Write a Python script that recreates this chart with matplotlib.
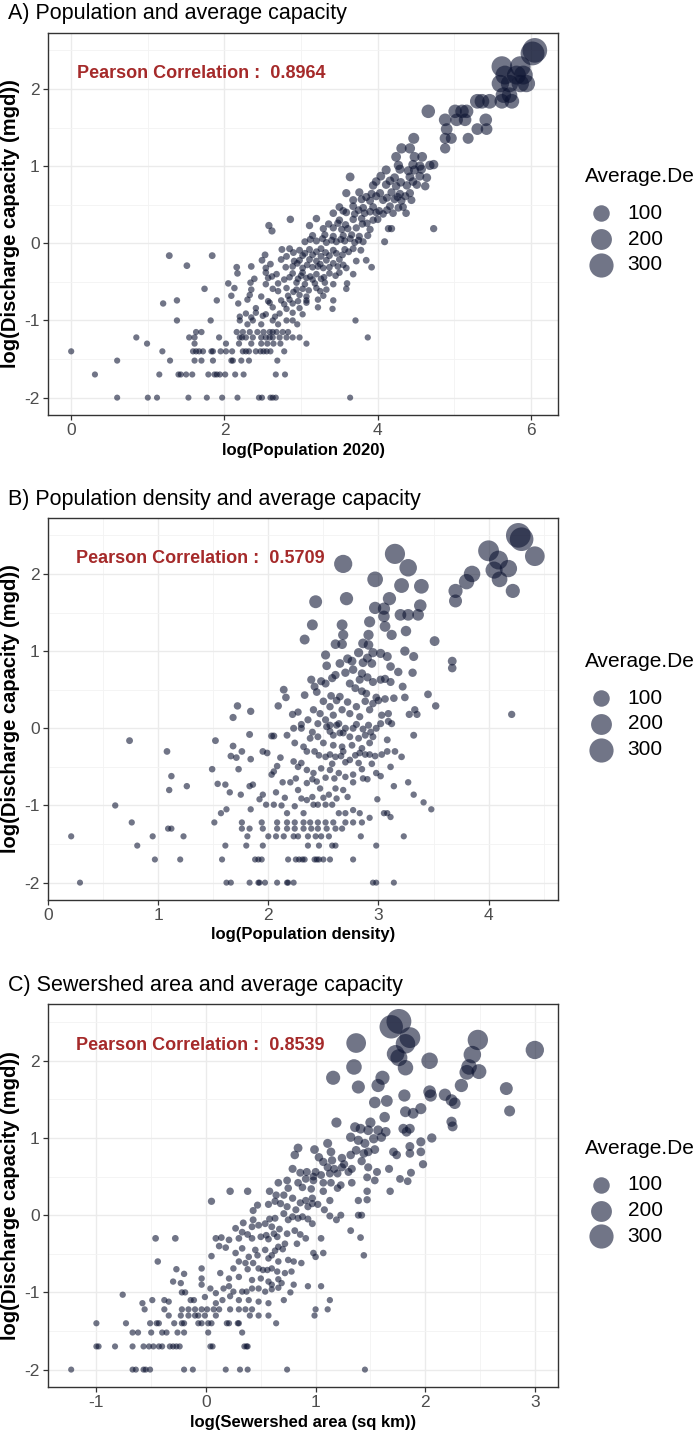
import numpy as np
import matplotlib.pyplot as plt
from matplotlib.ticker import MultipleLocator

plt.rcParams['font.family'] = ['Liberation Sans', 'DejaVu Sans']
plt.rcParams['axes.unicode_minus'] = False

# ---- data ----
# A) log10 population 2020 vs log10 discharge capacity (mgd)
pop_x = [
    0.60, 1.00, 1.12, 1.53, 1.77, 1.97, 2.17, 2.45, 2.49, 2.60, 2.63, 2.67, 3.64,
    0.31, 1.15, 1.40, 1.43, 1.50, 1.58, 1.79, 1.87, 1.90, 1.94, 2.01, 2.14, 2.25, 2.67, 2.79,
    0.60, 1.29, 1.61, 1.70, 1.85, 2.09, 2.11, 2.22, 2.32, 2.69,
    0.00, 1.19, 1.59, 1.63, 1.67, 1.72, 1.83, 1.85, 1.95, 2.02, 2.10, 2.24, 2.28, 2.32, 2.41, 2.47, 2.51, 2.55, 2.60, 2.78,
    0.99, 1.61, 2.02, 2.19, 2.35, 2.48, 2.56, 2.64, 2.73, 3.07,
    0.85, 1.54, 1.61, 1.93, 2.20, 2.23, 2.28, 2.37, 2.48, 2.54, 2.59, 2.63, 2.72, 2.81, 2.89, 2.98, 3.87,
    1.63, 1.70, 2.16, 2.24, 2.33, 2.43, 2.51, 2.59, 2.63, 2.68, 2.76, 2.83,
    1.38, 1.82, 2.20, 2.37, 2.63, 2.81, 2.89, 3.71,
    2.28, 2.41, 2.54, 2.72, 2.89, 3.02,
    2.41, 2.63, 2.81, 2.98, 3.22, 3.41,
    1.20, 2.18, 2.59, 2.78, 2.89, 3.07,
    1.38, 1.90, 2.30, 2.57, 2.74, 2.85, 2.96, 3.07, 3.22, 3.42,
    2.09, 2.33, 2.48, 2.83, 2.98, 3.07, 3.29,
    1.74, 2.13, 2.35, 2.63, 2.81, 2.94, 3.02, 3.20, 3.33, 3.59,
    2.05, 2.34, 2.54, 2.70, 2.94, 3.05, 3.18, 3.31, 3.42, 3.60,
    2.39, 2.57, 2.78, 2.96, 3.07, 3.15, 3.26,
    2.17, 2.54, 2.68, 2.89, 3.02, 3.20, 3.37, 3.50, 3.68,
    1.51, 2.16, 2.35, 2.54, 2.80, 2.89, 3.02, 3.15, 3.22, 3.29, 3.37, 3.48, 3.59, 3.92,
    2.49, 2.74, 2.91, 2.98, 3.11, 3.20, 3.33, 3.50, 3.72, 3.85,
    1.28, 1.84, 2.53, 2.81, 3.02, 3.15, 3.26, 3.37, 3.54,
    2.75, 2.85, 2.98, 3.11, 3.26, 3.42, 3.57, 3.68, 3.78,
    3.05, 3.20, 3.33, 3.46, 3.57, 3.70, 3.81, 4.09,
    3.15, 3.31, 3.42, 3.55, 3.66, 3.76, 3.87, 2.62,
    3.29, 3.42, 3.53, 3.61, 3.72, 3.90, 4.14, 4.18, 4.73, 2.58, 3.11,
    2.86, 3.20, 3.50, 3.68, 3.79, 3.94, 4.00,
    3.42, 3.59, 3.70, 3.83, 3.98, 4.07, 4.20, 4.37,
    3.50, 3.68, 3.81, 3.94, 4.16, 4.27, 4.33,
    3.68, 3.79, 3.90, 4.07, 4.22, 4.31, 4.44,
    3.59, 3.76, 3.92, 4.03, 4.18, 4.29, 4.42,
    3.94, 4.11, 4.24, 4.38, 4.51, 4.62,
    3.64, 4.04, 4.22, 4.42, 4.55, 4.64,
    4.11, 4.29, 4.40, 4.48, 4.57,
    4.27, 4.46, 4.55, 4.68, 4.73,
    4.24, 4.48, 4.58, 4.31, 4.42, 4.88,
    4.47, 4.88, 4.96, 5.18, 4.90, 5.30, 5.42,
    4.88, 5.03, 5.14, 5.41, 4.66, 5.01, 5.10, 5.16,
    5.30, 5.36, 5.46, 5.62, 5.75, 5.64, 5.72,
    5.60, 5.72, 5.86, 5.94, 5.66, 5.81, 5.90, 5.62, 5.86, 6.05, 6.02,
    2.70, 2.90, 3.10, 3.25, 2.62, 2.85, 3.00, 3.12, 3.30, 3.45,
    2.60, 2.95, 3.08, 3.25, 3.42, 3.55, 2.90, 3.05, 3.20, 3.32,
    3.46, 3.62, 3.12, 3.28, 3.40, 3.52, 3.64, 3.75, 3.36, 3.48,
    3.58, 3.80, 3.86, 3.55, 3.75, 3.90, 4.02, 4.12, 3.85, 3.98,
    4.12, 4.26, 4.36, 3.98, 4.16, 4.30, 4.46, 2.30, 2.48, 2.70,
    2.95, 2.20, 2.35, 2.50, 2.66,
]
pop_y = [
    -2.00, -2.00, -2.00, -2.00, -2.00, -2.00, -2.00, -2.00, -2.00, -2.00, -2.00, -2.00, -2.00,
    -1.70, -1.70, -1.70, -1.70, -1.70, -1.70, -1.70, -1.70, -1.70, -1.70, -1.70, -1.70, -1.70, -1.70, -1.70,
    -1.52, -1.52, -1.52, -1.52, -1.52, -1.52, -1.52, -1.52, -1.52, -1.52,
    -1.40, -1.40, -1.40, -1.40, -1.40, -1.40, -1.40, -1.40, -1.40, -1.40, -1.40, -1.40, -1.40, -1.40, -1.40, -1.40, -1.40, -1.40, -1.40, -1.40,
    -1.30, -1.30, -1.30, -1.30, -1.30, -1.30, -1.30, -1.30, -1.30, -1.30,
    -1.22, -1.22, -1.22, -1.22, -1.22, -1.22, -1.22, -1.22, -1.22, -1.22, -1.22, -1.22, -1.22, -1.22, -1.22, -1.22, -1.22,
    -1.15, -1.15, -1.15, -1.15, -1.15, -1.15, -1.15, -1.15, -1.15, -1.15, -1.15, -1.15,
    -1.00, -1.00, -1.00, -1.00, -1.00, -1.00, -1.00, -1.00,
    -0.91, -0.90, -0.92, -0.91, -0.90, -0.92,
    -0.84, -0.83, -0.85, -0.84, -0.83, -0.85,
    -0.78, -0.78, -0.77, -0.79, -0.78, -0.77,
    -0.74, -0.74, -0.73, -0.75, -0.74, -0.73, -0.75, -0.74, -0.73, -0.74,
    -0.68, -0.67, -0.69, -0.68, -0.67, -0.69, -0.68,
    -0.59, -0.58, -0.60, -0.59, -0.58, -0.60, -0.59, -0.58, -0.60, -0.59,
    -0.52, -0.51, -0.53, -0.52, -0.51, -0.53, -0.52, -0.51, -0.53, -0.52,
    -0.46, -0.45, -0.47, -0.46, -0.45, -0.47, -0.46,
    -0.39, -0.38, -0.40, -0.39, -0.38, -0.40, -0.39, -0.38, -0.40,
    -0.29, -0.31, -0.30, -0.32, -0.31, -0.30, -0.32, -0.31, -0.30, -0.32, -0.31, -0.30, -0.32, -0.31,
    -0.22, -0.21, -0.23, -0.22, -0.21, -0.23, -0.22, -0.21, -0.23, -0.22,
    -0.16, -0.16, -0.15, -0.17, -0.16, -0.15, -0.17, -0.16, -0.15,
    -0.08, -0.07, -0.09, -0.08, -0.07, -0.09, -0.08, -0.07, -0.09,
    0.02, 0.03, 0.01, 0.02, 0.03, 0.01, 0.02, 0.02,
    0.10, 0.11, 0.09, 0.10, 0.11, 0.09, 0.10, 0.16,
    0.19, 0.20, 0.18, 0.19, 0.20, 0.18, 0.19, 0.19, 0.19, 0.23, 0.23,
    0.31, 0.32, 0.30, 0.31, 0.32, 0.30, 0.31,
    0.39, 0.40, 0.38, 0.39, 0.40, 0.38, 0.39, 0.39,
    0.47, 0.48, 0.46, 0.47, 0.48, 0.46, 0.47,
    0.56, 0.57, 0.55, 0.56, 0.57, 0.55, 0.56,
    0.65, 0.66, 0.64, 0.65, 0.66, 0.64, 0.65,
    0.75, 0.76, 0.74, 0.75, 0.76, 0.74,
    0.86, 0.87, 0.85, 0.86, 0.87, 0.85,
    0.95, 0.96, 0.94, 0.95, 0.96,
    1.01, 1.02, 1.00, 1.01, 1.02,
    1.12, 1.12, 1.12, 1.23, 1.23, 1.23,
    1.36, 1.36, 1.36, 1.36, 1.48, 1.48, 1.48,
    1.60, 1.60, 1.60, 1.60, 1.71, 1.71, 1.71, 1.71,
    1.84, 1.84, 1.84, 1.84, 1.84, 1.92, 1.92,
    2.07, 2.07, 2.07, 2.07, 2.18, 2.18, 2.18, 2.29, 2.29, 2.50, 2.46,
    -0.62, -0.63, -0.61, -0.62, -0.43, -0.44, -0.42, -0.43, -0.44, -0.42,
    -0.27, -0.26, -0.28, -0.27, -0.26, -0.28, -0.12, -0.13, -0.11, -0.12,
    -0.13, -0.11, 0.05, 0.06, 0.04, 0.05, 0.06, 0.04, 0.25, 0.26,
    0.24, 0.25, 0.26, 0.42, 0.43, 0.41, 0.42, 0.43, 0.60, 0.61,
    0.59, 0.60, 0.61, 0.80, 0.81, 0.79, 0.80, -1.05, -1.05, -1.05,
    -1.05, -0.95, -0.96, -0.94, -0.95,
]

# B) log10 population density vs log10 discharge capacity (mgd)
dens_x = [
    4.27, 4.30, 4.42, 4.00, 4.09, 4.18, 4.05, 4.10, 3.85, 3.80,
    4.22, 3.70, 3.70, 3.15, 3.27, 2.68, 2.97, 3.21, 3.39, 2.71,
    2.43, 3.10, 3.38, 2.97, 3.05, 3.20, 3.27, 3.36, 3.05, 2.92,
    2.40, 2.67, 3.06, 3.25, 2.68, 2.91, 3.12, 2.33, 3.51, 2.61,
    2.67, 2.86, 2.91, 3.24, 3.32, 2.52, 2.82, 2.95, 3.02, 3.08,
    3.67, 3.67, 2.76, 2.53, 2.65, 2.86, 2.94, 3.11, 3.18, 3.31,
    2.70, 2.77, 2.85, 2.61, 2.39, 2.48, 2.52, 2.95, 3.02, 3.11,
    2.74, 2.83, 3.22, 2.42, 2.44, 2.14, 2.16, 2.33, 2.57, 2.65,
    2.79, 2.85, 2.89, 2.98, 3.06, 3.14, 3.24, 3.45, 3.52, 1.72,
    1.84, 1.68, 2.09, 2.41, 2.47, 2.56, 2.59, 2.67, 2.74, 2.80,
    2.83, 2.92, 2.95, 3.03, 3.09, 3.09, 3.28, 3.35, 3.33, 4.21,
    2.22, 2.27, 2.36, 2.52, 2.56, 2.64, 2.70, 2.77, 2.86, 2.91,
    2.98, 3.02, 3.32, 1.83, 2.03, 2.05, 2.17, 2.23, 2.30, 2.38,
    2.45, 2.53, 2.59, 2.65, 2.74, 2.82, 2.88, 2.95, 3.08, 2.24,
    2.32, 2.50, 2.59, 2.67, 2.76, 2.85, 2.92, 0.74, 1.52, 1.68,
    1.76, 1.66, 1.71, 1.84, 1.95, 1.99, 2.11, 1.08, 1.49, 1.73,
    2.08, 2.05, 2.03, 2.23, 2.27, 2.35, 2.42, 2.52, 2.61, 2.68,
    2.74, 2.83, 2.92, 3.03, 3.08, 3.15, 3.21, 3.11, 2.98, 3.02,
    2.35, 2.41, 2.48, 2.56, 2.64, 2.70, 2.77, 2.85, 1.12, 1.10,
    1.26, 1.54, 1.61, 1.65, 1.75, 1.83, 1.86, 1.95, 2.07, 2.13,
    2.20, 2.27, 2.35, 2.44, 2.47, 2.55, 2.61, 2.68, 2.77, 2.86,
    3.14, 3.27, 3.32, 3.41, 3.48, 2.99, 0.61, 1.57, 1.62, 1.84,
    1.92, 1.98, 2.05, 2.12, 2.17, 2.24, 2.32, 2.35, 2.41, 2.45,
    2.52, 2.58, 2.64, 2.70, 2.77, 2.83, 3.05, 3.08, 3.11, 2.92,
    0.76, 1.51, 1.76, 1.94, 2.08, 2.17, 2.24, 2.32, 2.38, 2.45, 2.52, 2.59, 2.70, 2.77, 2.85,
    1.09, 1.12, 1.76, 1.83, 1.95, 2.08, 2.17, 2.24, 2.32, 2.39, 2.45, 2.53, 2.61, 2.67,
    0.21, 0.95, 1.23, 1.81, 2.00, 2.07, 2.14, 2.23, 2.27, 2.36, 2.43, 2.48, 2.55, 2.84, 3.23,
    0.81, 1.61, 1.80, 1.95, 2.36, 2.46, 2.58, 2.61, 2.98,
    0.97, 1.20, 1.58, 1.88, 1.91, 1.94, 2.18, 2.25, 2.28, 2.31, 2.33, 2.42, 2.44, 2.46, 2.50, 2.56, 2.77,
    0.29, 1.62, 1.66, 1.83, 1.91, 1.92, 1.97, 2.08, 2.17, 2.18, 2.23, 2.95, 2.98, 3.14,
    2.58, 2.90, 3.06, 2.50, 2.62, 2.72, 2.88, 3.00, 2.30, 2.45,
    2.62, 2.80, 3.12, 2.40, 2.56, 2.68, 2.93, 2.46, 2.56, 2.66,
    2.79, 2.88, 2.97, 2.30, 2.58, 2.70, 2.82, 2.94, 2.25, 2.40,
    2.52, 2.60, 2.90, 2.15, 2.30, 2.40, 2.50, 2.62, 2.72, 2.72,
    2.90,
]
dens_y = [
    2.50, 2.45, 2.23, 2.30, 2.18, 2.07, 2.05, 1.93, 2.00, 1.90,
    1.78, 1.78, 1.65, 2.26, 2.08, 2.13, 1.93, 1.85, 1.84, 1.68,
    1.64, 1.68, 1.59, 1.56, 1.55, 1.47, 1.47, 1.47, 1.45, 1.38,
    1.34, 1.34, 1.32, 1.26, 1.21, 1.21, 1.21, 1.15, 1.13, 1.09,
    1.09, 1.10, 1.08, 1.00, 0.93, 0.95, 0.98, 0.98, 0.97, 0.93,
    0.87, 0.78, 0.87, 0.81, 0.84, 0.85, 0.84, 0.80, 0.73, 0.72,
    0.72, 0.76, 0.71, 0.69, 0.63, 0.61, 0.58, 0.60, 0.63, 0.60,
    0.58, 0.63, 0.54, 0.54, 0.47, 0.50, 0.40, 0.43, 0.42, 0.41,
    0.52, 0.48, 0.45, 0.40, 0.38, 0.39, 0.40, 0.44, 0.29, 0.29,
    0.22, 0.14, 0.29, 0.24, 0.19, 0.28, 0.17, 0.24, 0.19, 0.28,
    0.15, 0.24, 0.32, 0.17, 0.19, 0.09, 0.18, 0.18, 0.24, 0.18,
    0.18, 0.21, 0.11, 0.11, 0.04, 0.06, 0.00, 0.00, -0.01, 0.04,
    0.00, 0.06, -0.09, -0.08, -0.10, -0.10, -0.09, 0.00, 0.00, -0.13,
    -0.11, 0.02, -0.09, -0.06, -0.11, -0.13, -0.09, -0.11, -0.15, -0.19,
    -0.24, -0.19, -0.22, -0.24, -0.22, -0.26, -0.19, -0.16, -0.16, -0.23,
    -0.30, -0.36, -0.38, -0.40, -0.30, -0.32, -0.38, -0.30, -0.53, -0.53,
    -0.49, -0.56, -0.60, -0.43, -0.50, -0.30, -0.30, -0.37, -0.37, -0.30,
    -0.41, -0.32, -0.34, -0.34, -0.30, -0.30, -0.37, -0.50, -0.58, -0.62,
    -0.54, -0.58, -0.52, -0.54, -0.58, -0.63, -0.60, -0.53, -0.62, -0.80,
    -0.75, -0.72, -0.73, -0.83, -0.86, -0.75, -0.73, -0.86, -0.83, -0.70,
    -0.70, -0.80, -0.71, -0.69, -0.78, -0.86, -0.78, -0.80, -0.70, -0.65,
    -0.75, -0.70, -0.86, -0.96, -1.05, -0.92, -1.00, -1.10, -1.05, -1.05,
    -0.92, -0.99, -0.99, -1.00, -1.10, -1.01, -1.10, -0.93, -0.99, -0.99,
    -0.99, -0.99, -1.10, -1.10, -1.06, -1.10, -1.10, -1.10, -1.15, -1.16,
    -1.22, -1.22, -1.22, -1.22, -1.22, -1.22, -1.22, -1.22, -1.22, -1.22, -1.22, -1.22, -1.22, -1.22, -1.22,
    -1.30, -1.30, -1.30, -1.30, -1.30, -1.30, -1.30, -1.30, -1.30, -1.30, -1.30, -1.30, -1.30, -1.30,
    -1.40, -1.40, -1.40, -1.40, -1.40, -1.40, -1.40, -1.40, -1.40, -1.40, -1.40, -1.40, -1.40, -1.40, -1.40,
    -1.52, -1.52, -1.52, -1.52, -1.52, -1.52, -1.52, -1.52, -1.52,
    -1.70, -1.70, -1.70, -1.70, -1.70, -1.70, -1.70, -1.70, -1.70, -1.70, -1.70, -1.70, -1.70, -1.70, -1.70, -1.70, -1.70,
    -2.00, -2.00, -2.00, -2.00, -2.00, -2.00, -2.00, -2.00, -2.00, -2.00, -2.00, -2.00, -2.00, -2.00,
    0.65, 0.66, 0.64, 0.35, 0.36, 0.34, 0.35, 0.36, 0.05, 0.06,
    0.04, 0.05, 0.06, -0.05, -0.04, -0.06, -0.05, -0.35, -0.34, -0.36,
    -0.35, -0.34, -0.36, -0.45, -0.46, -0.44, -0.45, -0.46, -0.65, -0.66,
    -0.64, -0.65, -0.66, -0.90, -0.91, -0.89, -0.90, -0.91, -0.89, 0.90,
    0.91,
]

# C) log10 sewershed area (sq km) vs log10 discharge capacity (mgd)
area_x = [
    1.76, 1.69, 1.86, 1.82, 1.73, 1.76, 1.82, 1.37, 2.48, 2.43,
    2.40, 2.38, 2.49, 3.00, 1.35, 1.16, 1.61, 1.57, 1.39, 2.04,
    2.04, 2.05, 1.81, 2.18, 2.24, 2.27, 2.33, 2.74, 2.77, 1.65,
    1.54, 1.82, 1.89, 1.96, 1.63, 1.19, 2.24, 2.25, 1.50, 1.36,
    1.41, 1.48, 1.57, 1.64, 1.80, 1.86, 1.83, 1.60, 2.06, 1.96,
    1.32, 1.39, 1.45, 1.53, 1.11, 0.99, 0.84, 0.81, 1.14, 1.37,
    1.44, 1.48, 1.54, 1.71, 1.74, 1.86, 1.86, 1.96, 1.32, 1.42,
    1.48, 1.56, 1.67, 1.87, 1.98, 1.77, 1.84, 1.03, 1.07, 1.11,
    1.15, 1.24, 1.26, 1.33, 1.30, 0.79, 0.92, 0.98, 1.05, 1.13,
    1.17, 1.24, 1.47, 1.54, 1.23, 1.33, 1.47, 1.68, 0.66, 0.74,
    0.84, 0.91, 0.98, 1.07, 1.14, 0.22, 0.38, 0.58, 0.64, 0.05,
    0.71, 0.79, 0.91, 0.97, 1.07, 1.13, 1.39, 1.47, 0.47, 0.43,
    0.57, 0.63, 0.74, 0.82, 0.93, 0.97, 1.08, 1.13, 1.23, 1.39,
    1.42, 1.19, 1.32, 1.41, 1.44, 1.05, 1.07, 0.98, 1.00, 0.71,
    0.79, 0.88, 0.97, 0.63, 0.54, 0.43, 0.34, 0.27, 0.33, 0.42,
    0.48, 0.60, 0.67, 0.74, 0.81, 0.91, 0.09, 0.14, 0.21, 0.30,
    0.42, 0.50, 0.57, 0.65, 0.72, 0.83, -0.46, -0.28, 0.05, 0.12,
    0.18, 0.27, 0.33, 0.39, 0.47, 0.54, 0.60, 0.66, 0.57, 0.75,
    0.80, 0.87, 0.66, 0.30, 0.36, 0.43, 0.48, 0.56, 0.65, 0.72,
    0.78, 0.25, 0.13, -0.04, -0.44, -0.27, -0.20, -0.30, -0.23, -0.04,
    0.21, 0.30, 0.42, 0.50, 0.57, 0.66, 0.60, 0.69, 0.80, 0.93,
    1.05, -0.76, -0.22, -0.19, -0.04, 0.04, 0.09, 0.16, 0.21, 0.25,
    0.33, 0.37, 0.48, 0.54, 0.77, -0.58, -0.49, -0.38, -0.34, -0.14,
    -0.11, -0.01, 0.09, 0.15, 0.22, 0.30, 0.39, 0.48, 0.57, 0.71,
    1.13,
    -0.56, -0.38, -0.22, -0.16, -0.10, -0.04, 0.01, 0.07, 0.12, 0.22, 0.30, 0.36, 0.42, 1.00, 1.11,
    -0.34, -0.23, -0.16, -0.10, -0.07, -0.01, 0.09, 0.40, 0.48, 0.57, 0.99,
    -1.00, -0.73, -0.51, -0.45, -0.43, -0.29, -0.22, -0.20, -0.07, -0.04, 0.02, 0.05, 0.19, 0.21, 0.29, 0.30, 0.64,
    -0.67, -0.62, -0.50, -0.40, -0.36, -0.26, -0.20, 0.02, 0.33,
    -1.00, -0.98, -0.83, -0.67, -0.57, -0.52, -0.48, -0.43, -0.40, -0.33, -0.30, -0.27, -0.24, 0.04, 0.06, 0.35, 0.37, 0.38,
    -1.23, -0.67, -0.64, -0.57, -0.55, -0.51, -0.20, -0.12, 0.18, 0.31, 0.38, 0.74, 1.45,
    0.45, 0.63, 0.70, 0.38, 0.55, 0.62, 0.86, 0.58, 0.75, 0.84,
    0.93, 0.68, 0.86, 1.02, 0.75, 0.88, 0.96, 1.20, 0.38, 0.52,
    0.60, 0.86, 1.00, 1.20, 0.42, 0.60, 0.66,
]
area_y = [
    2.51, 2.44, 2.30, 2.22, 2.09, 2.04, 1.91, 2.23, 2.27, 2.08,
    1.92, 1.85, 1.86, 2.14, 1.92, 1.78, 1.78, 1.68, 1.66, 2.00,
    1.60, 1.55, 1.55, 1.56, 1.49, 1.45, 1.68, 1.64, 1.35, 1.48,
    1.46, 1.34, 1.32, 1.38, 1.27, 1.20, 1.21, 1.15, 1.20, 1.14,
    1.12, 1.10, 1.10, 1.08, 1.12, 1.12, 1.08, 1.01, 1.00, 0.95,
    1.01, 0.97, 0.93, 0.99, 0.93, 0.85, 0.87, 0.78, 0.82, 0.84,
    0.80, 0.82, 0.85, 0.82, 0.78, 0.89, 0.80, 0.82, 0.78, 0.70,
    0.62, 0.56, 0.60, 0.55, 0.66, 0.47, 0.44, 0.75, 0.69, 0.62,
    0.71, 0.74, 0.66, 0.60, 0.56, 0.60, 0.56, 0.50, 0.52, 0.54,
    0.60, 0.62, 0.49, 0.45, 0.39, 0.42, 0.31, 0.31, 0.42, 0.45,
    0.42, 0.47, 0.45, 0.42, 0.42, 0.31, 0.31, 0.31, 0.26, 0.18,
    0.26, 0.22, 0.19, 0.22, 0.31, 0.19, 0.19, 0.20, 0.13, 0.06,
    0.14, 0.18, 0.11, 0.07, 0.11, 0.15, 0.07, -0.01, 0.00, 0.00,
    0.00, -0.06, -0.20, -0.29, -0.52, -0.30, -0.49, -0.49, -0.54, 0.02,
    -0.02, -0.02, -0.11, -0.04, -0.11, -0.06, -0.10, -0.17, -0.22, -0.15,
    -0.13, -0.15, -0.18, -0.24, -0.20, -0.30, -0.30, -0.29, -0.32, -0.30,
    -0.30, -0.28, -0.31, -0.28, -0.37, -0.37, -0.30, -0.30, -0.53, -0.40,
    -0.42, -0.49, -0.43, -0.54, -0.52, -0.45, -0.52, -0.41, -0.56, -0.58,
    -0.60, -0.62, -0.60, -0.60, -0.62, -0.62, -0.69, -0.71, -0.73, -0.75,
    -0.73, -0.69, -0.75, -0.69, -0.60, -0.70, -0.76, -0.86, -0.88, -0.82,
    -0.82, -0.80, -0.84, -0.82, -0.86, -0.83, -0.90, -0.88, -0.90, -0.92,
    -0.92, -1.03, -1.00, -1.00, -0.90, -0.95, -1.01, -0.95, -0.92, -0.99,
    -0.99, -0.99, -0.95, -0.99, -1.00, -1.14, -1.10, -1.10, -1.12, -1.10,
    -1.10, -1.06, -1.14, -1.10, -1.05, -1.10, -1.10, -1.12, -1.14, -1.10,
    -1.10,
    -1.22, -1.22, -1.22, -1.22, -1.22, -1.22, -1.22, -1.22, -1.22, -1.22, -1.22, -1.22, -1.22, -1.22, -1.22,
    -1.30, -1.30, -1.30, -1.30, -1.30, -1.30, -1.30, -1.30, -1.30, -1.30, -1.30,
    -1.40, -1.40, -1.40, -1.40, -1.40, -1.40, -1.40, -1.40, -1.40, -1.40, -1.40, -1.40, -1.40, -1.40, -1.40, -1.40, -1.40,
    -1.52, -1.52, -1.52, -1.52, -1.52, -1.52, -1.52, -1.52, -1.52,
    -1.70, -1.70, -1.70, -1.70, -1.70, -1.70, -1.70, -1.70, -1.70, -1.70, -1.70, -1.70, -1.70, -1.70, -1.70, -1.70, -1.70, -1.70,
    -2.00, -2.00, -2.00, -2.00, -2.00, -2.00, -2.00, -2.00, -2.00, -2.00, -2.00, -2.00, -2.00,
    -0.45, -0.46, -0.44, -0.25, -0.26, -0.24, -0.25, -0.05, -0.06, -0.04,
    -0.05, 0.15, 0.16, 0.14, 0.35, 0.36, 0.34, 0.35, -0.70, -0.71,
    -0.69, 0.55, 0.56, 0.54, -0.95, -0.96, -0.94,
]

titles = ['A) Population and average capacity',
          'B) Population density and average capacity',
          'C) Sewershed area and average capacity']
x_labels = ['log(Population 2020)', 'log(Population density)', 'log(Sewershed area (sq km))']
y_label = 'log(Discharge capacity (mgd))'
pearson = ['0.8964', '0.5709', '0.8539']
legend_title = 'Average.De'
legend_breaks = [100, 200, 300]

# ---- styling ----
DOT = '#0B1230'
ALPHA = 0.58
W, H = 700, 1440


def dot_size(v):
    # marker diameter in px grows with sqrt of the value (ggplot area scale)
    d_px = 6.0 + 1.05 * np.sqrt(np.asarray(v, dtype=float))
    return (d_px * 72.0 / 100.0) ** 2


panels = [
    (pop_x, pop_y, [0, 2, 4, 6], 1.0, 1.70, 33, 415, 19),
    (dens_x, dens_y, [0, 1, 2, 3, 4], 0.5, 1.38, 518, 900, 505),
    (area_x, area_y, [-1, 0, 1, 2, 3], 0.5, -0.05, 1004, 1387, 991),
]

fig = plt.figure(figsize=(W / 100, H / 100), dpi=100)
fig.patch.set_facecolor('white')

for i, (xs, ys, xt, xminor, px, top, bot, title_base) in enumerate(panels):
    ax = fig.add_axes([48 / W, 1 - bot / H, 510 / W, (bot - top) / H])
    xs = np.array(xs)
    ys = np.array(ys)
    cap = 10 ** ys  # average design flow in mgd
    ax.scatter(xs, ys, s=dot_size(cap), color=DOT, alpha=ALPHA, linewidths=0, zorder=3)
    ax.margins(0.05)

    ax.set_xticks(xt)
    ax.set_yticks([-2, -1, 0, 1, 2])
    ax.xaxis.set_minor_locator(MultipleLocator(xminor))
    ax.yaxis.set_minor_locator(MultipleLocator(0.5))
    ax.grid(which='major', color='#EBEBEB', linewidth=1.0, zorder=0)
    ax.grid(which='minor', color='#F3F3F3', linewidth=0.6, zorder=0)
    ax.set_axisbelow(True)
    for sp in ax.spines.values():
        sp.set_color('#333333')
        sp.set_linewidth(1.0)
    ax.tick_params(which='major', length=3.5, width=0.9, color='#333333',
                   labelsize=12.5, labelcolor='#4D4D4D', pad=2.5)
    ax.tick_params(which='minor', length=0)

    ax.set_xlabel(x_labels[i], fontsize=12, fontweight='bold', labelpad=3)
    ax.set_ylabel(y_label, fontsize=14.5, fontweight='bold')
    ax.yaxis.set_label_coords(-0.054, 0.5)

    ax.text(px, 2.2, 'Pearson Correlation :  ' + pearson[i], color='#A52A2A',
            fontsize=13, fontweight='bold', ha='center', va='center', zorder=4)

    fig.text(8 / W, 1 - title_base / H, titles[i], fontsize=15.5,
             ha='left', va='baseline')

    # size legend to the right of the panel
    mid = (top + bot) / 2
    fig.text(585 / W, 1 - (mid - 47) / H, legend_title, fontsize=15,
             ha='left', va='center')
    handles = [ax.scatter([], [], s=dot_size(b), color=DOT, alpha=ALPHA, linewidths=0)
               for b in legend_breaks]
    ax.legend(handles, [str(b) for b in legend_breaks],
              loc='center left', bbox_to_anchor=((585 - 48) / 510, 0.5 - 15 / (bot - top)),
              frameon=False, fontsize=15, scatterpoints=1,
              handlelength=1.5, handletextpad=0.55, labelspacing=0.32,
              borderpad=0, borderaxespad=0)

fig.savefig('out.png', dpi=100, facecolor='white')
